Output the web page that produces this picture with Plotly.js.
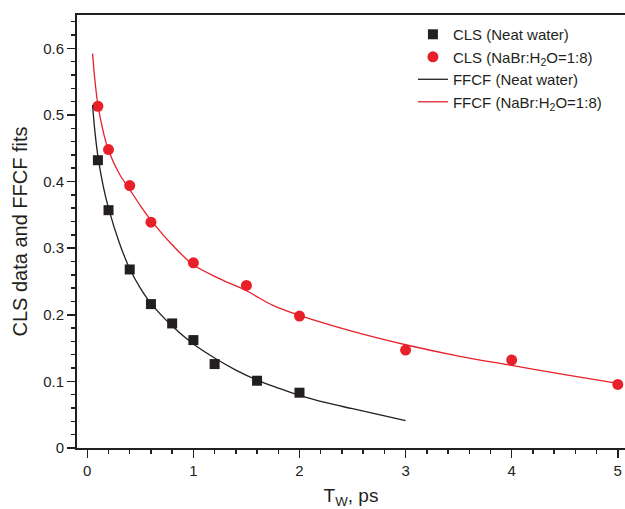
<!DOCTYPE html>
<html>
<head>
<meta charset="utf-8">
<script src="https://cdn.plot.ly/plotly-3.0.1.min.js"></script>
<style>html,body{margin:0;padding:0;background:#fff;}#chart{width:625px;height:509px;}</style>
</head>
<body>
<div id="chart"></div>
<script>
// CLS data, neat water
const neatX = [0.1, 0.2, 0.4, 0.6, 0.8, 1.0, 1.2, 1.6, 2.0];
const neatY = [0.432, 0.357, 0.268, 0.216, 0.187, 0.162, 0.126, 0.101, 0.083];
// CLS data, NaBr:H2O = 1:8
const nabrX = [0.1, 0.2, 0.4, 0.6, 1.0, 1.5, 2.0, 3.0, 4.0, 5.0];
const nabrY = [0.513, 0.448, 0.394, 0.339, 0.278, 0.244, 0.198, 0.147, 0.132, 0.0955];
// FFCF fit curve, neat water
const fitNeatX = [0.05, 0.07, 0.1, 0.15, 0.2, 0.3, 0.4, 0.5, 0.6, 0.8, 1.0, 1.2, 1.4, 1.6, 1.8, 2.0, 2.25, 2.5, 2.75, 3.0];
const fitNeatY = [0.515, 0.478, 0.438, 0.393, 0.360, 0.309, 0.269, 0.240, 0.217, 0.183, 0.156, 0.135, 0.117, 0.102, 0.090, 0.079, 0.068, 0.059, 0.050, 0.041];
// FFCF fit curve, NaBr:H2O = 1:8
const fitNabrX = [0.05, 0.07, 0.1, 0.15, 0.2, 0.3, 0.4, 0.5, 0.6, 0.8, 1.0, 1.25, 1.5, 1.75, 2.0, 2.5, 3.0, 3.5, 4.0, 4.5, 5.0];
const fitNabrY = [0.592, 0.555, 0.515, 0.475, 0.447, 0.412, 0.388, 0.364, 0.342, 0.305, 0.275, 0.254, 0.236, 0.214, 0.199, 0.175, 0.155, 0.138, 0.124, 0.110, 0.097];

const black = '#231f20';
const red = '#e8202a';
const font = 'Liberation Sans, Arial, sans-serif';

const traces = [
  {x: neatX, y: neatY, type: 'scatter', mode: 'markers', name: 'CLS (Neat water)',
   marker: {symbol: 'square', size: 10, color: black}},
  {x: nabrX, y: nabrY, type: 'scatter', mode: 'markers', name: 'CLS (NaBr:H<sub>2</sub>O=1:8)',
   marker: {symbol: 'circle', size: 11, color: red}},
  {x: fitNeatX, y: fitNeatY, type: 'scatter', mode: 'lines', name: 'FFCF (Neat water)',
   line: {color: black, width: 1.3, shape: 'spline'}},
  {x: fitNabrX, y: fitNabrY, type: 'scatter', mode: 'lines', name: 'FFCF (NaBr:H<sub>2</sub>O=1:8)',
   line: {color: red, width: 1.3, shape: 'spline'}}
];

const layout = {
  width: 625, height: 509,
  margin: {l: 77, r: 0, t: 15, b: 61},
  paper_bgcolor: '#fff', plot_bgcolor: '#fff',
  font: {family: font, color: black, size: 15},
  showlegend: true,
  legend: {x: 0.613, y: 0.993, xanchor: 'left', yanchor: 'top', bgcolor: 'rgba(0,0,0,0)',
           font: {family: font, size: 15, color: black}, tracegroupgap: 0},
  xaxis: {
    range: [-0.097, 5.068], showgrid: false, zeroline: false,
    showline: true, linecolor: black, linewidth: 2, mirror: true,
    ticks: 'outside', ticklen: 8, tickwidth: 1.5, tickcolor: black,
    dtick: 1, tick0: 0, tickfont: {family: font, size: 15, color: black},
    minor: {dtick: 0.2, ticks: 'outside', ticklen: 4, tickwidth: 1.5, tickcolor: black, showgrid: false},
    title: {text: 'T<sub>W</sub>, ps', font: {family: font, size: 19, color: black}, standoff: 11}
  },
  yaxis: {
    range: [0, 0.65], showgrid: false, zeroline: false,
    showline: true, linecolor: black, linewidth: 2, mirror: false,
    ticks: 'outside', ticklen: 8, tickwidth: 1.5, tickcolor: black,
    dtick: 0.1, tick0: 0, tickfont: {family: font, size: 15, color: black},
    minor: {dtick: 0.02, ticks: 'outside', ticklen: 4, tickwidth: 1.5, tickcolor: black, showgrid: false},
    title: {text: 'CLS data and FFCF fits', font: {family: font, size: 20, color: black}, standoff: 10}
  }
};

Plotly.newPlot('chart', traces, layout, {displayModeBar: false, staticPlot: true});
</script>
</body>
</html>
